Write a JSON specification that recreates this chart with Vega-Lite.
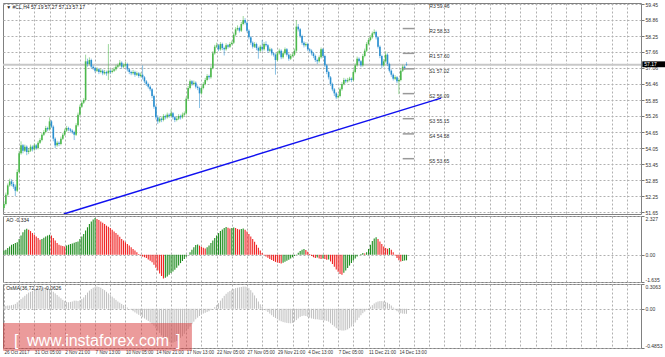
{
"$schema":"https://vega.github.io/schema/vega-lite/v6.json",
"padding":{"left":1,"top":1,"right":0,"bottom":0},
"background":"white",
"spacing":2,
"bounds":"flush",
"config":{"view":{"stroke":"#808080","strokeWidth":1},"axis":{"gridColor":"#b0b0b0","gridDash":[2,2],"gridWidth":1,"domain":false,"tickColor":"#777","tickSize":3,"tickCount":1000,"labelFont":"Liberation Sans","labelFontSize":5,"labelColor":"#333","labelPadding":1,"labelOverlap":false}},
"datasets":{
"b":[
{"i":0,"o":51.8,"h":52.05,"l":51.72,"c":51.95,"a":0.25,"m":0.03},
{"i":1,"o":51.95,"h":52.38,"l":51.9,"c":52.3,"a":0.3,"m":0.035},
{"i":2,"o":52.3,"h":52.72,"l":52.25,"c":52.65,"a":0.4,"m":0.04},
{"i":3,"o":52.65,"h":52.9,"l":52.6,"c":52.8,"a":0.5,"m":0.04},
{"i":4,"o":52.8,"h":52.88,"l":52.62,"c":52.7,"a":0.6,"m":0.045},
{"i":5,"o":52.7,"h":52.78,"l":52.52,"c":52.6,"a":0.65,"m":0.05},
{"i":6,"o":52.6,"h":52.68,"l":52.25,"c":52.45,"a":0.7,"m":0.06},
{"i":7,"o":52.45,"h":53.25,"l":52.4,"c":53.15,"a":0.75,"m":0.08},
{"i":8,"o":53.15,"h":53.95,"l":53.1,"c":53.85,"a":0.95,"m":0.1},
{"i":9,"o":53.85,"h":54.3,"l":53.8,"c":54.15,"a":1.15,"m":0.12},
{"i":10,"o":54.15,"h":54.2,"l":53.85,"c":53.95,"a":1.35,"m":0.14},
{"i":11,"o":53.95,"h":54.18,"l":53.9,"c":54.1,"a":1.5,"m":0.16},
{"i":12,"o":54.1,"h":54.15,"l":53.78,"c":53.9,"a":1.56,"m":0.18},
{"i":13,"o":53.9,"h":54.05,"l":53.82,"c":53.95,"a":1.5,"m":0.2},
{"i":14,"o":53.95,"h":54.18,"l":53.9,"c":54.1,"a":1.42,"m":0.21},
{"i":15,"o":54.1,"h":54.15,"l":53.92,"c":54.0,"a":1.3,"m":0.22},
{"i":16,"o":54.0,"h":54.22,"l":53.95,"c":54.15,"a":1.2,"m":0.23},
{"i":17,"o":54.15,"h":54.2,"l":53.98,"c":54.05,"a":1.1,"m":0.24},
{"i":18,"o":54.05,"h":54.32,"l":54.0,"c":54.25,"a":1.0,"m":0.25},
{"i":19,"o":54.25,"h":54.42,"l":54.2,"c":54.35,"a":0.9,"m":0.255},
{"i":20,"o":54.35,"h":54.62,"l":54.3,"c":54.55,"a":0.95,"m":0.26},
{"i":21,"o":54.55,"h":54.72,"l":54.5,"c":54.65,"a":1.02,"m":0.265},
{"i":22,"o":54.65,"h":54.88,"l":54.6,"c":54.8,"a":1.1,"m":0.265},
{"i":23,"o":54.8,"h":54.85,"l":54.68,"c":54.75,"a":1.15,"m":0.255},
{"i":24,"o":54.75,"h":55.2,"l":54.7,"c":55.05,"a":1.2,"m":0.245},
{"i":25,"o":55.05,"h":55.1,"l":54.8,"c":54.85,"a":1.15,"m":0.23},
{"i":26,"o":54.85,"h":54.9,"l":54.3,"c":54.4,"a":1.0,"m":0.21},
{"i":27,"o":54.4,"h":54.45,"l":54.05,"c":54.15,"a":0.85,"m":0.19},
{"i":28,"o":54.15,"h":54.32,"l":54.1,"c":54.25,"a":0.7,"m":0.17},
{"i":29,"o":54.25,"h":54.3,"l":54.12,"c":54.2,"a":0.6,"m":0.15},
{"i":30,"o":54.2,"h":54.48,"l":54.15,"c":54.4,"a":0.55,"m":0.13},
{"i":31,"o":54.4,"h":54.62,"l":54.35,"c":54.55,"a":0.52,"m":0.11},
{"i":32,"o":54.55,"h":54.78,"l":54.5,"c":54.7,"a":0.5,"m":0.095},
{"i":33,"o":54.7,"h":54.88,"l":54.65,"c":54.8,"a":0.55,"m":0.085},
{"i":34,"o":54.8,"h":54.85,"l":54.68,"c":54.75,"a":0.6,"m":0.08},
{"i":35,"o":54.75,"h":54.8,"l":54.62,"c":54.7,"a":0.65,"m":0.085},
{"i":36,"o":54.7,"h":54.75,"l":54.58,"c":54.65,"a":0.68,"m":0.09},
{"i":37,"o":54.65,"h":54.7,"l":54.35,"c":54.55,"a":0.72,"m":0.1},
{"i":38,"o":54.55,"h":54.98,"l":54.5,"c":54.9,"a":0.76,"m":0.1},
{"i":39,"o":54.9,"h":55.38,"l":54.85,"c":55.3,"a":0.8,"m":0.095},
{"i":40,"o":55.3,"h":55.68,"l":55.25,"c":55.6,"a":0.95,"m":0.105},
{"i":41,"o":55.6,"h":55.82,"l":55.55,"c":55.75,"a":1.1,"m":0.12},
{"i":42,"o":55.75,"h":55.92,"l":55.7,"c":55.85,"a":1.25,"m":0.14},
{"i":43,"o":55.85,"h":57.55,"l":55.8,"c":57.3,"a":1.45,"m":0.17},
{"i":44,"o":57.3,"h":57.4,"l":57.1,"c":57.2,"a":1.65,"m":0.2},
{"i":45,"o":57.2,"h":57.45,"l":57.15,"c":57.35,"a":1.85,"m":0.225},
{"i":46,"o":57.35,"h":57.4,"l":57.02,"c":57.1,"a":2.0,"m":0.245},
{"i":47,"o":57.1,"h":57.15,"l":56.98,"c":57.05,"a":2.12,"m":0.26},
{"i":48,"o":57.05,"h":57.1,"l":56.88,"c":56.95,"a":2.2,"m":0.27},
{"i":49,"o":56.95,"h":57.08,"l":56.9,"c":57.0,"a":2.15,"m":0.275},
{"i":50,"o":57.0,"h":57.05,"l":56.82,"c":56.9,"a":2.08,"m":0.27},
{"i":51,"o":56.9,"h":57.02,"l":56.85,"c":56.95,"a":2.0,"m":0.26},
{"i":52,"o":56.95,"h":57.0,"l":56.78,"c":56.85,"a":1.92,"m":0.245},
{"i":53,"o":56.85,"h":56.98,"l":56.8,"c":56.9,"a":1.85,"m":0.23},
{"i":54,"o":56.9,"h":56.95,"l":56.76,"c":56.85,"a":1.75,"m":0.21},
{"i":55,"o":56.85,"h":57.95,"l":56.6,"c":56.95,"a":1.68,"m":0.19},
{"i":56,"o":56.95,"h":57.0,"l":56.82,"c":56.9,"a":1.6,"m":0.17},
{"i":57,"o":56.9,"h":57.02,"l":56.85,"c":56.95,"a":1.5,"m":0.15},
{"i":58,"o":56.95,"h":57.08,"l":56.9,"c":57.0,"a":1.4,"m":0.13},
{"i":59,"o":57.0,"h":57.18,"l":56.95,"c":57.1,"a":1.3,"m":0.11},
{"i":60,"o":57.1,"h":57.22,"l":57.05,"c":57.15,"a":1.2,"m":0.09},
{"i":61,"o":57.15,"h":57.35,"l":57.1,"c":57.25,"a":1.08,"m":0.075},
{"i":62,"o":57.25,"h":57.3,"l":57.02,"c":57.1,"a":0.95,"m":0.06},
{"i":63,"o":57.1,"h":57.22,"l":57.05,"c":57.15,"a":0.85,"m":0.045},
{"i":64,"o":57.15,"h":57.28,"l":57.1,"c":57.2,"a":0.75,"m":0.03},
{"i":65,"o":57.2,"h":57.25,"l":56.92,"c":57.0,"a":0.65,"m":0.015},
{"i":66,"o":57.0,"h":57.05,"l":56.82,"c":56.9,"a":0.55,"m":0.0},
{"i":67,"o":56.9,"h":56.95,"l":56.78,"c":56.85,"a":0.45,"m":-0.015},
{"i":68,"o":56.85,"h":56.98,"l":56.8,"c":56.9,"a":0.35,"m":-0.03},
{"i":69,"o":56.9,"h":56.95,"l":56.72,"c":56.8,"a":0.25,"m":-0.045},
{"i":70,"o":56.8,"h":56.92,"l":56.75,"c":56.85,"a":0.15,"m":-0.06},
{"i":71,"o":56.85,"h":56.9,"l":56.68,"c":56.75,"a":0.05,"m":-0.075},
{"i":72,"o":56.75,"h":56.88,"l":56.7,"c":56.8,"a":-0.05,"m":-0.09},
{"i":73,"o":56.8,"h":57.15,"l":56.62,"c":56.7,"a":-0.1,"m":-0.105},
{"i":74,"o":56.7,"h":56.75,"l":56.48,"c":56.55,"a":-0.15,"m":-0.12},
{"i":75,"o":56.55,"h":56.6,"l":56.38,"c":56.45,"a":-0.2,"m":-0.135},
{"i":76,"o":56.45,"h":56.5,"l":56.28,"c":56.35,"a":-0.28,"m":-0.15},
{"i":77,"o":56.35,"h":56.4,"l":56.18,"c":56.25,"a":-0.36,"m":-0.17},
{"i":78,"o":56.25,"h":56.3,"l":55.92,"c":56.0,"a":-0.45,"m":-0.19},
{"i":79,"o":56.0,"h":56.05,"l":55.52,"c":55.6,"a":-0.6,"m":-0.21},
{"i":80,"o":55.6,"h":55.65,"l":55.12,"c":55.2,"a":-0.78,"m":-0.24},
{"i":81,"o":55.2,"h":55.28,"l":54.95,"c":55.05,"a":-0.95,"m":-0.27},
{"i":82,"o":55.05,"h":55.22,"l":55.0,"c":55.15,"a":-1.12,"m":-0.3},
{"i":83,"o":55.15,"h":55.2,"l":55.02,"c":55.1,"a":-1.28,"m":-0.33},
{"i":84,"o":55.1,"h":55.32,"l":55.05,"c":55.25,"a":-1.42,"m":-0.36},
{"i":85,"o":55.25,"h":55.3,"l":55.12,"c":55.2,"a":-1.38,"m":-0.38},
{"i":86,"o":55.2,"h":55.38,"l":55.15,"c":55.3,"a":-1.3,"m":-0.4},
{"i":87,"o":55.3,"h":55.35,"l":55.18,"c":55.25,"a":-1.2,"m":-0.41},
{"i":88,"o":55.25,"h":55.5,"l":55.2,"c":55.35,"a":-1.1,"m":-0.42},
{"i":89,"o":55.35,"h":55.4,"l":55.12,"c":55.2,"a":-1.0,"m":-0.42},
{"i":90,"o":55.2,"h":55.25,"l":55.02,"c":55.1,"a":-0.9,"m":-0.41},
{"i":91,"o":55.1,"h":55.22,"l":55.05,"c":55.15,"a":-0.78,"m":-0.4},
{"i":92,"o":55.15,"h":55.32,"l":55.1,"c":55.25,"a":-0.65,"m":-0.38},
{"i":93,"o":55.25,"h":55.3,"l":55.12,"c":55.2,"a":-0.5,"m":-0.36},
{"i":94,"o":55.2,"h":55.38,"l":55.15,"c":55.3,"a":-0.38,"m":-0.34},
{"i":95,"o":55.3,"h":55.42,"l":55.25,"c":55.35,"a":-0.25,"m":-0.31},
{"i":96,"o":55.35,"h":55.98,"l":55.3,"c":55.9,"a":-0.12,"m":-0.28},
{"i":97,"o":55.9,"h":56.38,"l":55.85,"c":56.3,"a":0.0,"m":-0.25},
{"i":98,"o":56.3,"h":56.62,"l":56.25,"c":56.55,"a":0.15,"m":-0.22},
{"i":99,"o":56.55,"h":56.6,"l":56.38,"c":56.45,"a":0.3,"m":-0.19},
{"i":100,"o":56.45,"h":56.58,"l":56.4,"c":56.5,"a":0.45,"m":-0.16},
{"i":101,"o":56.5,"h":56.55,"l":56.28,"c":56.35,"a":0.58,"m":-0.13},
{"i":102,"o":56.35,"h":56.4,"l":56.22,"c":56.3,"a":0.62,"m":-0.11},
{"i":103,"o":56.3,"h":56.35,"l":55.55,"c":56.1,"a":0.55,"m":-0.09},
{"i":104,"o":56.1,"h":56.38,"l":56.05,"c":56.3,"a":0.48,"m":-0.07},
{"i":105,"o":56.3,"h":56.52,"l":56.25,"c":56.45,"a":0.42,"m":-0.06},
{"i":106,"o":56.45,"h":56.68,"l":56.4,"c":56.6,"a":0.38,"m":-0.05},
{"i":107,"o":56.6,"h":56.82,"l":56.55,"c":56.75,"a":0.45,"m":-0.04},
{"i":108,"o":56.75,"h":56.8,"l":56.62,"c":56.7,"a":0.55,"m":-0.03},
{"i":109,"o":56.7,"h":57.12,"l":56.65,"c":57.05,"a":0.7,"m":-0.015},
{"i":110,"o":57.05,"h":57.68,"l":57.0,"c":57.6,"a":0.85,"m":0.0},
{"i":111,"o":57.6,"h":57.92,"l":57.55,"c":57.85,"a":1.0,"m":0.02},
{"i":112,"o":57.85,"h":58.0,"l":57.8,"c":57.9,"a":1.15,"m":0.045},
{"i":113,"o":57.9,"h":57.95,"l":57.68,"c":57.75,"a":1.3,"m":0.07},
{"i":114,"o":57.75,"h":58.02,"l":57.7,"c":57.95,"a":1.42,"m":0.1},
{"i":115,"o":57.95,"h":58.0,"l":57.72,"c":57.8,"a":1.52,"m":0.13},
{"i":116,"o":57.8,"h":57.85,"l":57.52,"c":57.75,"a":1.6,"m":0.16},
{"i":117,"o":57.75,"h":57.98,"l":57.7,"c":57.9,"a":1.66,"m":0.185},
{"i":118,"o":57.9,"h":57.95,"l":57.78,"c":57.85,"a":1.62,"m":0.205},
{"i":119,"o":57.85,"h":58.02,"l":57.8,"c":57.95,"a":1.58,"m":0.22},
{"i":120,"o":57.95,"h":58.08,"l":57.9,"c":58.0,"a":1.6,"m":0.235},
{"i":121,"o":58.0,"h":58.38,"l":57.95,"c":58.3,"a":1.63,"m":0.245},
{"i":122,"o":58.3,"h":58.58,"l":58.25,"c":58.5,"a":1.6,"m":0.255},
{"i":123,"o":58.5,"h":58.65,"l":58.45,"c":58.55,"a":1.55,"m":0.26},
{"i":124,"o":58.55,"h":58.6,"l":58.38,"c":58.45,"a":1.52,"m":0.265},
{"i":125,"o":58.45,"h":58.78,"l":58.4,"c":58.7,"a":1.55,"m":0.27},
{"i":126,"o":58.7,"h":59.0,"l":58.65,"c":58.85,"a":1.58,"m":0.275},
{"i":127,"o":58.85,"h":58.92,"l":58.68,"c":58.75,"a":1.5,"m":0.275},
{"i":128,"o":58.75,"h":58.8,"l":58.38,"c":58.45,"a":1.4,"m":0.27},
{"i":129,"o":58.45,"h":58.5,"l":58.12,"c":58.2,"a":1.25,"m":0.255},
{"i":130,"o":58.2,"h":58.25,"l":57.92,"c":58.0,"a":1.1,"m":0.23},
{"i":131,"o":58.0,"h":58.05,"l":57.78,"c":57.85,"a":0.95,"m":0.2},
{"i":132,"o":57.85,"h":58.02,"l":57.8,"c":57.95,"a":0.78,"m":0.165},
{"i":133,"o":57.95,"h":58.0,"l":57.72,"c":57.8,"a":0.6,"m":0.13},
{"i":134,"o":57.8,"h":57.85,"l":57.4,"c":57.7,"a":0.42,"m":0.09},
{"i":135,"o":57.7,"h":57.92,"l":57.65,"c":57.85,"a":0.25,"m":0.055},
{"i":136,"o":57.85,"h":58.1,"l":57.68,"c":57.75,"a":0.1,"m":0.025},
{"i":137,"o":57.75,"h":58.02,"l":57.7,"c":57.95,"a":-0.02,"m":0.0},
{"i":138,"o":57.95,"h":58.05,"l":57.85,"c":57.9,"a":-0.1,"m":-0.02},
{"i":139,"o":57.9,"h":57.95,"l":57.62,"c":57.7,"a":-0.18,"m":-0.04},
{"i":140,"o":57.7,"h":57.82,"l":57.65,"c":57.75,"a":-0.25,"m":-0.06},
{"i":141,"o":57.75,"h":57.8,"l":57.52,"c":57.6,"a":-0.32,"m":-0.08},
{"i":142,"o":57.6,"h":57.65,"l":57.48,"c":57.55,"a":-0.38,"m":-0.1},
{"i":143,"o":57.55,"h":57.6,"l":56.8,"c":57.35,"a":-0.43,"m":-0.115},
{"i":144,"o":57.35,"h":57.68,"l":57.3,"c":57.6,"a":-0.47,"m":-0.13},
{"i":145,"o":57.6,"h":57.78,"l":57.55,"c":57.7,"a":-0.5,"m":-0.145},
{"i":146,"o":57.7,"h":57.75,"l":57.38,"c":57.45,"a":-0.52,"m":-0.155},
{"i":147,"o":57.45,"h":57.68,"l":57.4,"c":57.6,"a":-0.48,"m":-0.165},
{"i":148,"o":57.6,"h":57.82,"l":57.55,"c":57.75,"a":-0.42,"m":-0.17},
{"i":149,"o":57.75,"h":57.8,"l":57.48,"c":57.55,"a":-0.36,"m":-0.175},
{"i":150,"o":57.55,"h":57.6,"l":57.32,"c":57.4,"a":-0.3,"m":-0.178},
{"i":151,"o":57.4,"h":57.58,"l":57.35,"c":57.5,"a":-0.22,"m":-0.18},
{"i":152,"o":57.5,"h":57.62,"l":57.45,"c":57.55,"a":-0.15,"m":-0.175},
{"i":153,"o":57.55,"h":57.78,"l":57.5,"c":57.7,"a":-0.07,"m":-0.16},
{"i":154,"o":57.7,"h":58.85,"l":57.65,"c":58.6,"a":0.02,"m":-0.14},
{"i":155,"o":58.6,"h":58.7,"l":58.42,"c":58.5,"a":0.12,"m":-0.12},
{"i":156,"o":58.5,"h":58.55,"l":58.18,"c":58.25,"a":0.22,"m":-0.1},
{"i":157,"o":58.25,"h":58.3,"l":57.92,"c":58.0,"a":0.3,"m":-0.09},
{"i":158,"o":58.0,"h":58.05,"l":57.82,"c":57.9,"a":0.35,"m":-0.085},
{"i":159,"o":57.9,"h":58.02,"l":57.85,"c":57.95,"a":0.28,"m":-0.09},
{"i":160,"o":57.95,"h":58.0,"l":57.68,"c":57.75,"a":0.18,"m":-0.1},
{"i":161,"o":57.75,"h":57.8,"l":57.62,"c":57.7,"a":0.05,"m":-0.11},
{"i":162,"o":57.7,"h":57.75,"l":57.52,"c":57.6,"a":-0.08,"m":-0.12},
{"i":163,"o":57.6,"h":57.65,"l":57.42,"c":57.5,"a":-0.15,"m":-0.125},
{"i":164,"o":57.5,"h":57.55,"l":57.28,"c":57.35,"a":-0.2,"m":-0.13},
{"i":165,"o":57.35,"h":57.4,"l":57.2,"c":57.3,"a":-0.17,"m":-0.13},
{"i":166,"o":57.3,"h":57.52,"l":57.25,"c":57.45,"a":-0.22,"m":-0.135},
{"i":167,"o":57.45,"h":57.82,"l":57.4,"c":57.75,"a":-0.25,"m":-0.14},
{"i":168,"o":57.75,"h":57.8,"l":57.42,"c":57.5,"a":-0.22,"m":-0.14},
{"i":169,"o":57.5,"h":57.55,"l":57.08,"c":57.15,"a":-0.26,"m":-0.145},
{"i":170,"o":57.15,"h":57.2,"l":56.82,"c":56.9,"a":-0.3,"m":-0.15},
{"i":171,"o":56.9,"h":56.95,"l":56.62,"c":56.7,"a":-0.28,"m":-0.16},
{"i":172,"o":56.7,"h":56.75,"l":56.38,"c":56.45,"a":-0.4,"m":-0.18},
{"i":173,"o":56.45,"h":56.5,"l":56.18,"c":56.25,"a":-0.55,"m":-0.2},
{"i":174,"o":56.25,"h":56.3,"l":56.0,"c":56.1,"a":-0.72,"m":-0.22},
{"i":175,"o":56.1,"h":56.15,"l":55.88,"c":55.95,"a":-0.88,"m":-0.24},
{"i":176,"o":55.95,"h":56.08,"l":55.9,"c":56.0,"a":-1.02,"m":-0.255},
{"i":177,"o":56.0,"h":56.32,"l":55.95,"c":56.25,"a":-1.15,"m":-0.265},
{"i":178,"o":56.25,"h":56.52,"l":56.2,"c":56.45,"a":-1.2,"m":-0.27},
{"i":179,"o":56.45,"h":56.68,"l":56.4,"c":56.6,"a":-1.08,"m":-0.27},
{"i":180,"o":56.6,"h":56.65,"l":56.48,"c":56.55,"a":-0.95,"m":-0.265},
{"i":181,"o":56.55,"h":56.68,"l":56.5,"c":56.6,"a":-0.8,"m":-0.255},
{"i":182,"o":56.6,"h":56.72,"l":56.55,"c":56.65,"a":-0.65,"m":-0.24},
{"i":183,"o":56.65,"h":56.7,"l":56.52,"c":56.6,"a":-0.5,"m":-0.22},
{"i":184,"o":56.6,"h":56.98,"l":56.55,"c":56.9,"a":-0.35,"m":-0.195},
{"i":185,"o":56.9,"h":57.22,"l":56.85,"c":57.15,"a":-0.22,"m":-0.17},
{"i":186,"o":57.15,"h":57.48,"l":57.1,"c":57.4,"a":-0.1,"m":-0.14},
{"i":187,"o":57.4,"h":57.45,"l":57.22,"c":57.3,"a":0.0,"m":-0.11},
{"i":188,"o":57.3,"h":57.35,"l":57.08,"c":57.15,"a":0.05,"m":-0.08},
{"i":189,"o":57.15,"h":57.58,"l":57.1,"c":57.5,"a":0.1,"m":-0.055},
{"i":190,"o":57.5,"h":57.78,"l":57.45,"c":57.7,"a":0.08,"m":-0.035},
{"i":191,"o":57.7,"h":58.02,"l":57.65,"c":57.95,"a":0.15,"m":-0.015},
{"i":192,"o":57.95,"h":58.18,"l":57.9,"c":58.1,"a":0.35,"m":0.005},
{"i":193,"o":58.1,"h":58.28,"l":58.05,"c":58.2,"a":0.6,"m":0.025},
{"i":194,"o":58.2,"h":58.42,"l":58.15,"c":58.35,"a":0.82,"m":0.045},
{"i":195,"o":58.35,"h":58.5,"l":58.3,"c":58.4,"a":0.98,"m":0.065},
{"i":196,"o":58.4,"h":58.45,"l":58.12,"c":58.2,"a":1.05,"m":0.08},
{"i":197,"o":58.2,"h":58.25,"l":57.78,"c":57.85,"a":0.95,"m":0.09},
{"i":198,"o":57.85,"h":57.9,"l":57.42,"c":57.5,"a":0.8,"m":0.095},
{"i":199,"o":57.5,"h":57.55,"l":57.05,"c":57.15,"a":0.65,"m":0.095},
{"i":200,"o":57.15,"h":57.38,"l":57.1,"c":57.3,"a":0.5,"m":0.09},
{"i":201,"o":57.3,"h":57.68,"l":57.25,"c":57.55,"a":0.4,"m":0.085},
{"i":202,"o":57.55,"h":57.6,"l":57.12,"c":57.2,"a":0.36,"m":0.075},
{"i":203,"o":57.2,"h":57.25,"l":56.88,"c":56.95,"a":0.4,"m":0.06},
{"i":204,"o":56.95,"h":57.0,"l":56.72,"c":56.8,"a":0.3,"m":0.04},
{"i":205,"o":56.8,"h":56.85,"l":56.58,"c":56.65,"a":0.15,"m":0.015},
{"i":206,"o":56.65,"h":56.78,"l":56.6,"c":56.7,"a":-0.05,"m":-0.01},
{"i":207,"o":56.7,"h":56.75,"l":56.48,"c":56.55,"a":-0.2,"m":-0.03},
{"i":208,"o":56.55,"h":56.68,"l":56.07,"c":56.6,"a":-0.33,"m":-0.045},
{"i":209,"o":56.6,"h":57.02,"l":56.55,"c":56.95,"a":-0.4,"m":-0.055},
{"i":210,"o":56.95,"h":57.18,"l":56.9,"c":57.1,"a":-0.38,"m":-0.06},
{"i":211,"o":57.1,"h":57.15,"l":56.98,"c":57.05,"a":-0.35,"m":-0.062},
{"i":212,"o":57.19,"h":57.27,"l":57.13,"c":57.17,"a":-0.334,"m":-0.0626}
],
"piv":[
{"t":"R3 59.46","v":59.46},{"t":"R2 58.53","v":58.53},{"t":"R1 57.60","v":57.6},{"t":"S1 57.02","v":57.02},
{"t":"S2 56.09","v":56.09},{"t":"S3 55.15","v":55.15},{"t":"S4 54.58","v":54.58},{"t":"S5 53.65","v":53.65}
]
},
"vconcat":[
{
"width":638,"height":211,
"layer":[
{"data":{"values":[{}]},"mark":{"type":"rule","color":"#c8c8c8","strokeWidth":2},
 "encoding":{"y":{"datum":57.17,"type":"quantitative","title":null}}},
{"data":{"name":"b"},"mark":{"type":"rule","strokeWidth":1,"opacity":0.55,"clip":true},
 "encoding":{
  "x":{"field":"i","type":"quantitative","scale":{"domain":[-0.5,335.5],"nice":false,"zero":false},"title":null,
   "axis":{"values":[8,16,24,32,40,48,56,64,72,80,88,96,104,112,120,128,136,144,152,160,168,176,184,192,200,208,216,224,232,240,248,256,264,272,280,288,296,304,312,320,328],"tickCount":1000,"labels":false,"ticks":false,"grid":true}},
  "y":{"field":"l","type":"quantitative","scale":{"domain":[51.576,59.488],"nice":false,"zero":false},"title":null,
   "axis":{"orient":"right","values":[51.65,52.25,52.85,53.45,54.05,54.65,55.26,55.85,56.46,57.06,57.66,58.25,58.86,59.45],"tickCount":1000,"format":".2f","grid":true,"labelOverlap":false}},
  "y2":{"field":"h"},
  "color":{"condition":{"test":"datum.c >= datum.o","value":"#4cb84c"},"value":"#2a8fd0"}}},
{"data":{"name":"b"},"mark":{"type":"rule","strokeWidth":1.6,"clip":true},
 "encoding":{
  "x":{"field":"i","type":"quantitative","title":null},
  "y":{"field":"o","type":"quantitative","title":null},
  "y2":{"field":"c"},
  "color":{"condition":{"test":"datum.c >= datum.o","value":"#4cb84c"},"value":"#2a8fd0"}}},
{"data":{"values":[{}]},"mark":{"type":"rule","color":"#1010f0","strokeWidth":1.5,"clip":true},
 "encoding":{"x":{"datum":31.5,"type":"quantitative","title":null},"x2":{"datum":230.2},"y":{"datum":51.576,"type":"quantitative","title":null},"y2":{"datum":55.92}}},
{"data":{"name":"piv"},"mark":{"type":"rule","color":"#999999","strokeWidth":1.5},
 "encoding":{"x":{"datum":210,"type":"quantitative","title":null},"x2":{"datum":216},"y":{"field":"v","type":"quantitative","title":null}}},
{"data":{"name":"piv"},"mark":{"type":"text","align":"left","baseline":"middle","dy":2.5,"fontSize":5,"font":"Liberation Sans","color":"#333333"},
 "encoding":{"x":{"datum":224,"type":"quantitative","title":null},"y":{"field":"v","type":"quantitative","title":null},"text":{"field":"t"}}},
{"data":{"values":[{}]},"mark":{"type":"text","align":"left","baseline":"middle","fontSize":5,"font":"Liberation Sans","color":"#222222"},
 "encoding":{"x":{"datum":1.2,"type":"quantitative","title":null},"y":{"datum":59.338,"type":"quantitative","title":null},"text":{"value":"▼ #CL,H4  57.19 57.27 57.13 57.17"}}},
{"data":{"values":[{}]},"mark":{"type":"rect","color":"#000000"},
 "encoding":{"x":{"datum":336.2,"type":"quantitative","title":null},"x2":{"datum":348.5},"y":{"datum":57.08,"type":"quantitative","title":null},"y2":{"datum":57.3}}},
{"data":{"values":[{}]},"mark":{"type":"text","align":"left","baseline":"middle","fontSize":5,"font":"Liberation Sans","color":"#ffffff"},
 "encoding":{"x":{"datum":337.2,"type":"quantitative","title":null},"y":{"datum":57.19,"type":"quantitative","title":null},"text":{"value":"57.17"}}}
]
},
{
"width":638,"height":66,
"layer":[
{"data":{"name":"b"},
 "transform":[{"window":[{"op":"lag","field":"a","as":"p"}],"sort":[{"field":"i"}]}],
 "mark":{"type":"rule","strokeWidth":1.1},
 "encoding":{
  "x":{"field":"i","type":"quantitative","scale":{"domain":[-0.5,335.5],"nice":false,"zero":false},"title":null,
   "axis":{"values":[8,16,24,32,40,48,56,64,72,80,88,96,104,112,120,128,136,144,152,160,168,176,184,192,200,208,216,224,232,240,248,256,264,272,280,288,296,304,312,320,328],"tickCount":1000,"labels":false,"ticks":false,"grid":true}},
  "y":{"field":"a","type":"quantitative","scale":{"domain":[-1.635,2.327],"nice":false,"zero":false},"title":null,
   "axis":{"orient":"right","values":[-1.635,0,2.327],"tickCount":1000,"labelExpr":"datum.value == 0 ? '0.00' : '' + datum.value","labelFlush":true,"labelOverlap":false,"grid":true}},
  "y2":{"datum":0},
  "color":{"condition":{"test":"datum.a > datum.p","value":"#1e8c1e"},"value":"#f02424"}}},
{"data":{"values":[{}]},"mark":{"type":"text","align":"left","baseline":"middle","fontSize":5,"font":"Liberation Sans","color":"#222222"},
 "encoding":{"x":{"datum":1.2,"type":"quantitative","title":null},"y":{"datum":2.087,"type":"quantitative","title":null},"text":{"value":"AO -0.334"}}}
]
},
{
"width":638,"height":64,
"layer":[
{"data":{"name":"b"},"mark":{"type":"rule","strokeWidth":1,"color":"#c0c0c0"},
 "encoding":{
  "x":{"field":"i","type":"quantitative","scale":{"domain":[-0.5,335.5],"nice":false,"zero":false},"title":null,
   "axis":{"values":[0,8,16,24,32,40,48,56,64,72,80,88,96,104,112,120,128,136,144,152,160,168,176,184,192,200,208,216,224,232,240,248,256,264,272,280,288,296,304,312,320,328],"tickCount":1000,"ticks":false,"grid":true,"labelAlign":"left","labelBaseline":"top","labelPadding":1,"labelOverlap":false,"labelFontSize":4.6,
    "labelExpr":"datum.value % 16 == 0 && datum.value <= 208 ? ['26 Oct 2017','31 Oct 05:00','2 Nov 21:00','7 Nov 13:00','10 Nov 05:00','14 Nov 21:00','17 Nov 13:00','22 Nov 05:00','27 Nov 05:00','29 Nov 21:00','4 Dec 13:00','7 Dec 05:00','11 Dec 21:00','14 Dec 13:00'][datum.value / 16] : ''"}},
  "y":{"field":"m","type":"quantitative","scale":{"domain":[-0.4853,0.3063],"nice":false,"zero":false},"title":null,
   "axis":{"orient":"right","values":[-0.4853,0,0.3063],"tickCount":1000,"labelExpr":"datum.value == 0 ? '0.00' : '' + datum.value","labelFlush":true,"labelOverlap":false,"grid":true}},
  "y2":{"datum":0}}},
{"data":{"values":[{}]},"mark":{"type":"text","align":"left","baseline":"middle","fontSize":5,"font":"Liberation Sans","color":"#222222"},
 "encoding":{"x":{"datum":1.2,"type":"quantitative","title":null},"y":{"datum":0.2568,"type":"quantitative","title":null},"text":{"value":"OsMA(36,72,27) -0.0626"}}},
{"data":{"values":[{}]},"mark":{"type":"rect","color":"#d83838","opacity":0.5},
 "encoding":{"x":{"datum":-0.5,"type":"quantitative","title":null},"x2":{"datum":99},"y":{"datum":-0.52,"type":"quantitative","title":null},"y2":{"datum":-0.176}}},
{"data":{"values":[{}]},"mark":{"type":"text","align":"left","baseline":"alphabetic","fontSize":16,"font":"Liberation Sans","color":"#ffffff"},
 "encoding":{"x":{"datum":5.3,"type":"quantitative","title":null},"y":{"datum":-0.46,"type":"quantitative","title":null},"text":{"value":"["}}},
{"data":{"values":[{}]},"mark":{"type":"text","align":"left","baseline":"alphabetic","fontSize":16,"font":"Liberation Sans","color":"#ffffff"},
 "encoding":{"x":{"datum":12.1,"type":"quantitative","title":null},"y":{"datum":-0.46,"type":"quantitative","title":null},"text":{"value":"www.instaforex.com"}}},
{"data":{"values":[{}]},"mark":{"type":"text","align":"left","baseline":"alphabetic","fontSize":16,"font":"Liberation Sans","color":"#ffffff"},
 "encoding":{"x":{"datum":90.6,"type":"quantitative","title":null},"y":{"datum":-0.46,"type":"quantitative","title":null},"text":{"value":"]"}}}
]
}
]
}
